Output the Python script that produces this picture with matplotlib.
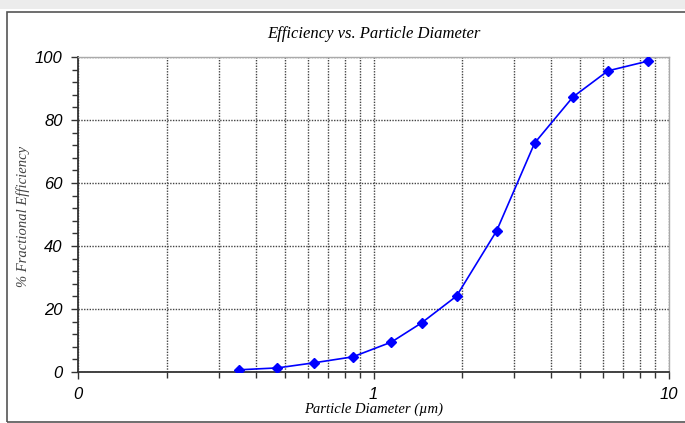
import matplotlib.pyplot as plt
from matplotlib.patches import Rectangle
from matplotlib.ticker import FixedLocator, FixedFormatter, MultipleLocator

# Data
diameter = [0.351, 0.473, 0.627, 0.85, 1.15, 1.455, 1.91, 2.61, 3.51, 4.73, 6.21, 8.49]
efficiency = [0.7, 1.3, 2.9, 4.8, 9.5, 15.6, 24.1, 44.8, 72.7, 87.3, 95.6, 98.7]
x_ticks = [0.1, 1, 10]
x_tick_labels = ["0", "1", "10"]
x_minor = [0.2, 0.3, 0.4, 0.5, 0.6, 0.7, 0.8, 0.9, 2, 3, 4, 5, 6, 7, 8, 9]

# Create the figure
fig = plt.figure(figsize=(6.85, 4.23), dpi=100)

# Light strip on top and the outer frame
fig.patches.append(Rectangle((0, 1 - 9 / 423), 1, 9 / 423, transform=fig.transFigure,
                             facecolor="#ececec", edgecolor="none", zorder=0))
fig.patches.append(Rectangle((7 / 685, 1.5 / 423), 1.0, 1 - 13.5 / 423, transform=fig.transFigure,
                             facecolor="none", edgecolor="#555555", linewidth=1.2, zorder=1))

ax = fig.add_axes([78 / 685, 1 - 372 / 423, (669 - 78) / 685, (372 - 57) / 423])

# Plot the efficiency curve
ax.plot(diameter, efficiency, color="#0000ff", linewidth=1.2, marker="D", markersize=5,
        markerfacecolor="#0000ff", markeredgecolor="#0000ff", zorder=3)

# Axes scales and limits
ax.set_xscale("log")
ax.set_xlim(0.1, 10)
ax.set_ylim(0, 100)

# Ticks
ax.xaxis.set_major_locator(FixedLocator(x_ticks))
ax.xaxis.set_major_formatter(FixedFormatter(x_tick_labels))
ax.xaxis.set_minor_locator(FixedLocator(x_minor))
ax.xaxis.set_minor_formatter(FixedFormatter([""] * len(x_minor)))
ax.yaxis.set_major_locator(MultipleLocator(20))
ax.yaxis.set_minor_locator(MultipleLocator(4))

for lab in ax.get_xticklabels() + ax.get_yticklabels():
    lab.set_fontfamily("Liberation Sans")
    lab.set_fontstyle("italic")
    lab.set_fontsize(12)
ax.tick_params(axis="both", which="major", length=5, width=1, color="#333333", pad=6)
ax.tick_params(axis="both", which="minor", length=4, width=1, color="#333333")

# Grid lines
ax.grid(True, which="major", axis="both", linestyle=(0, (1, 1)), color="#444444", linewidth=1)
ax.grid(True, which="minor", axis="x", linestyle=(0, (1, 1)), color="#444444", linewidth=1)

# Spines
for side in ["left", "bottom"]:
    ax.spines[side].set_color("#333333")
    ax.spines[side].set_linewidth(1.3)
for side in ["top", "right"]:
    ax.spines[side].set_color("#aaaaaa")
    ax.spines[side].set_linewidth(1)

# Labels
ax.set_title("Efficiency vs. Particle Diameter", family="Liberation Serif", style="italic",
             fontsize=12, pad=14)
ax.set_xlabel("Particle Diameter (\u00b5m)", family="Liberation Serif", style="italic",
              fontsize=10.5, labelpad=0)
ax.set_ylabel("% Fractional Efficiency", family="Liberation Serif", style="italic",
              fontsize=10.5, color="#444444")
ax.yaxis.set_label_coords(-48 / 591, 0.495)

# Save the plot
fig.savefig("out.png", dpi=100)
